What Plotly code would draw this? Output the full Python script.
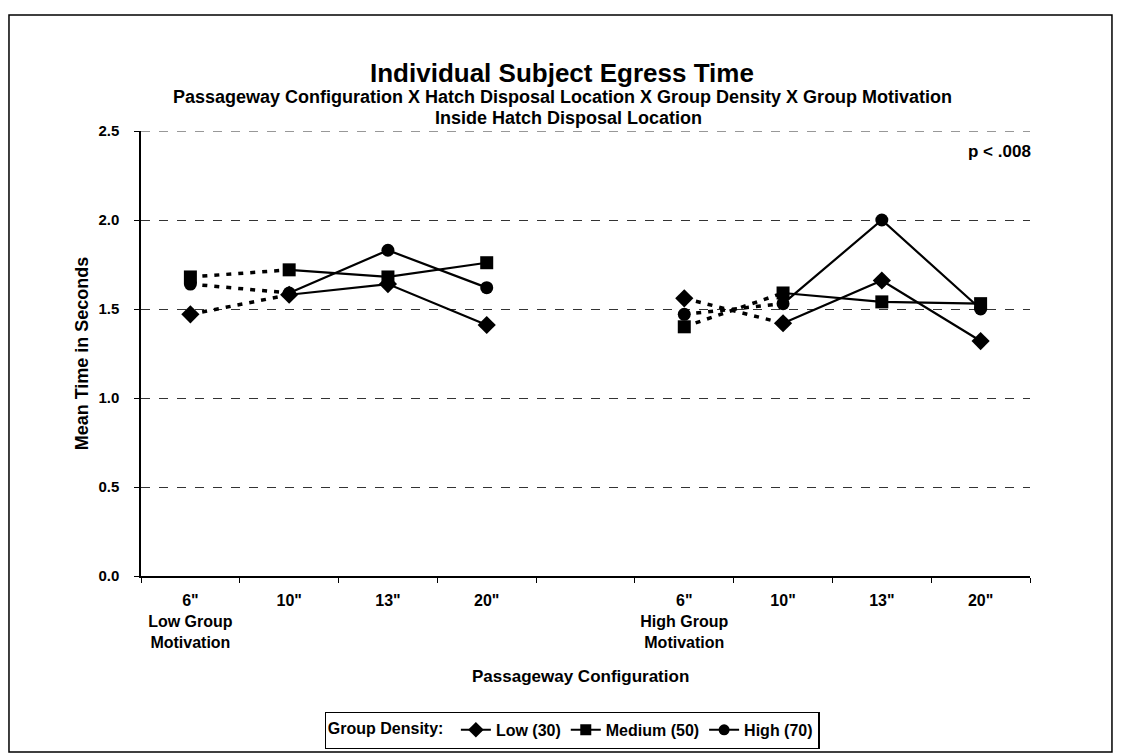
import plotly.graph_objects as go

# ---- data ----
configs = ['6"', '10"', '13"', '20"']
motivation_groups = ["Low Group<br>Motivation", "High Group<br>Motivation"]
densities = ["Low (30)", "Medium (50)", "High (70)"]
symbols = ["diamond", "square", "circle"]
marker_sizes = [14, 13, 13]

low_motivation = {
    "Low (30)":    [1.47, 1.58, 1.64, 1.41],
    "Medium (50)": [1.68, 1.72, 1.68, 1.76],
    "High (70)":   [1.64, 1.59, 1.83, 1.62],
}
high_motivation = {
    "Low (30)":    [1.56, 1.42, 1.66, 1.32],
    "Medium (50)": [1.40, 1.59, 1.54, 1.53],
    "High (70)":   [1.47, 1.53, 2.00, 1.50],
}

y_ticks = [0.0, 0.5, 1.0, 1.5, 2.0, 2.5]

# category positions: 4 configs, a gap, 4 configs
low_x = [0, 1, 2, 3]
high_x = [5, 6, 7, 8]
tick_vals = low_x + high_x
tick_text = []
for gi, xs in enumerate([low_x, high_x]):
    for ci, c in enumerate(configs):
        if ci == 0:
            tick_text.append("<b>" + c + "<br>" + motivation_groups[gi] + "</b>")
        else:
            tick_text.append("<b>" + c + "</b>")

FONT = "Liberation Sans, Arial, sans-serif"
fig = go.Figure()

for di, d in enumerate(densities):
    for xs, data in [(low_x, low_motivation), (high_x, high_motivation)]:
        ys = data[d]
        # dashed connector 6" -> 10"
        fig.add_trace(go.Scatter(x=xs[:2], y=ys[:2], mode="lines",
                                 line=dict(color="black", width=3.5, dash="5px,7px"),
                                 showlegend=False, hoverinfo="skip"))
        # solid 10" -> 20"
        fig.add_trace(go.Scatter(x=xs[1:], y=ys[1:], mode="lines",
                                 line=dict(color="black", width=2.2),
                                 showlegend=False, hoverinfo="skip"))
        fig.add_trace(go.Scatter(x=xs, y=ys, mode="markers",
                                 marker=dict(symbol=symbols[di], size=marker_sizes[di], color="black"),
                                 showlegend=False, name=d))
    # legend entry
    fig.add_trace(go.Scatter(x=[None], y=[None], mode="lines+markers", name=d,
                             line=dict(color="black", width=2),
                             marker=dict(symbol=symbols[di], size=marker_sizes[di] - 2, color="black")))

fig.update_layout(
    width=1122, height=754,
    margin=dict(l=133, r=100, t=123, b=186),
    paper_bgcolor="white", plot_bgcolor="white",
    font=dict(family=FONT, color="black", size=15),
    legend=dict(orientation="h", x=0.485, xanchor="center", y=-0.305, yanchor="top",
                bordercolor="black", borderwidth=1.2,
                title=dict(text="<b>Group Density:</b> ", side="left", font=dict(size=16)),
                font=dict(size=16, weight=700), itemwidth=30,
                traceorder="normal"),
)

fig.update_xaxes(range=[-0.5, 8.5], tickvals=tick_vals, ticktext=tick_text,
                 ticks="", showline=True, linecolor="black", linewidth=1.5,
                 showgrid=False, zeroline=False, ticklabelstandoff=9,
                 tickfont=dict(size=16),
                 minor=dict(tick0=-0.5, dtick=1, ticks="outside", ticklen=5,
                            tickcolor="black", showgrid=False))
fig.update_yaxes(range=[0, 2.5], tickvals=y_ticks, tickformat=".1f",
                 ticks="outside", ticklen=5, tickcolor="black",
                 showline=True, linecolor="black", linewidth=1.5,
                 showgrid=True, gridcolor="#333", gridwidth=1, griddash="dash",
                 zeroline=False, tickfont=dict(size=15, weight=700),
                 ticklabelstandoff=12,
                 title=dict(text="<b>Mean Time in Seconds</b>", font=dict(size=18), standoff=5))

# top gridline at 2.5 (plotly skips grid at the range edge)
fig.add_shape(type="line", xref="paper", yref="y", x0=0, x1=1, y0=y_ticks[-1], y1=y_ticks[-1],
              line=dict(color="#333", width=1, dash="dash"))

# frame around the whole chart
fig.add_shape(type="rect", xref="paper", yref="paper",
              x0=-0.1485, x1=1.0922, y0=-0.3955, y1=1.2607,
              line=dict(color="black", width=1.5), layer="below")

anns = [
    dict(text="<b>Individual Subject Egress Time</b>", x=0.4736, y=1.130, size=26),
    dict(text="<b>Passageway Configuration X Hatch Disposal Location X Group Density X Group Motivation</b>",
         x=0.4736, y=1.076, size=18),
    dict(text="<b>Inside Hatch Disposal Location</b>", x=0.481, y=1.029, size=18),
    dict(text="<b>p < .008</b>", x=0.966, y=0.953, size=17),
    dict(text="<b>Passageway Configuration</b>", x=0.494, y=-0.225, size=17),
]
for a in anns:
    fig.add_annotation(text=a["text"], x=a["x"], y=a["y"], xref="paper", yref="paper",
                       showarrow=False, xanchor="center", yanchor="middle",
                       font=dict(size=a["size"], family=FONT, color="black"))

fig.write_html("out.html")
